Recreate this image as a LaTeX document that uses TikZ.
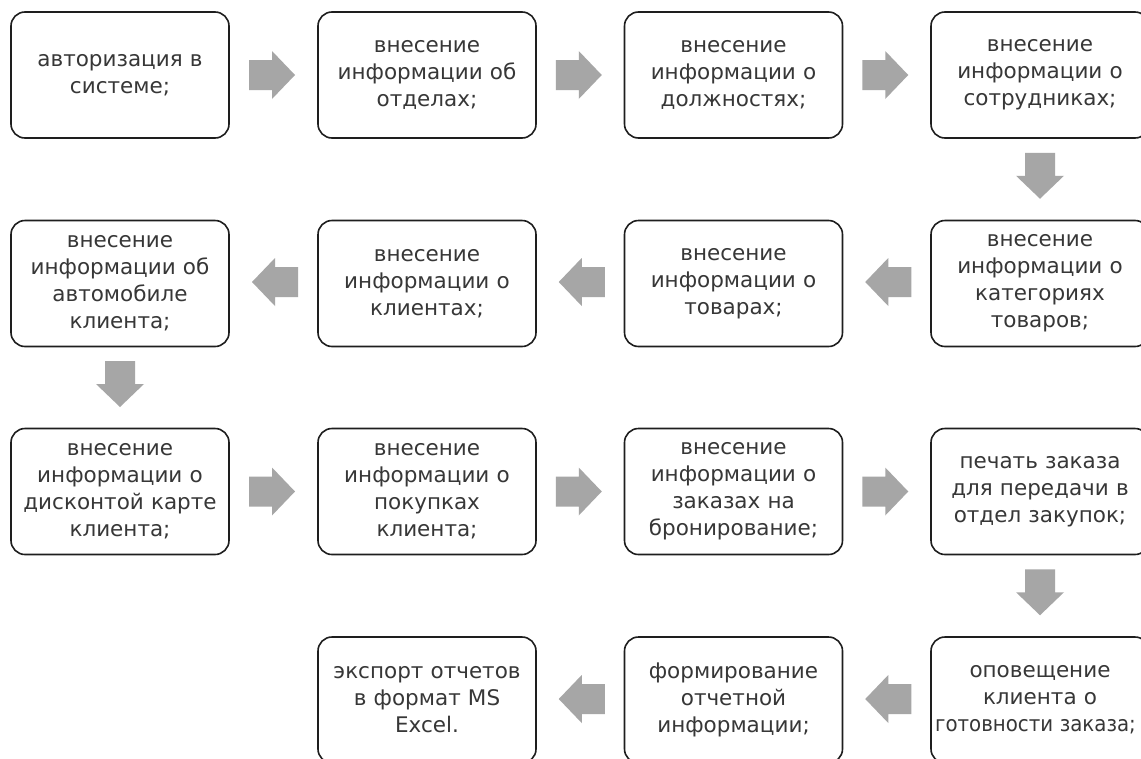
\documentclass[tikz,border=0pt]{standalone}
\usepackage{fontspec}
\setmainfont{DejaVu Sans}
\usetikzlibrary{calc}
\definecolor{arrowgray}{RGB}{166,166,166}
\definecolor{textgray}{RGB}{55,55,55}
\definecolor{framegray}{RGB}{30,30,30}
\tikzset{
  stepbox/.style={draw=framegray, line width=1.6pt, rounded corners=14pt,
    minimum width=218pt, minimum height=126pt, inner sep=0pt,
    text width=214pt, align=center, text=textgray,
    font=\fontsize{21.5}{27}\selectfont},
  blockarrow/.pic={
    \fill[arrowgray] (-23,-15) -- (0,-15) -- (0,-24) -- (23,0)
      -- (0,24) -- (0,15) -- (-23,15) -- cycle;
  }
}
% a line set a little narrower, centred slightly left of the box axis
\newcommand{\tightline}[1]{\makebox[\linewidth][c]{\hspace*{-9pt}\scalebox{0.92}[1]{#1}}}
\begin{document}
\begin{tikzpicture}[x=1pt,y=-1pt]
\useasboundingbox[fill=white] (0,0) rectangle (1141,758);

% row 1
\node[stepbox] (b1) at (120,75) {авторизация в\\системе;};
\node[stepbox] (b2) at (427,75) {внесение\\информации об\\отделах;};
\node[stepbox] (b3) at (733.5,75) {внесение\\информации о\\должностях;};
\node[stepbox] (b4) at (1040,75) {внесение\\информации о\\сотрудниках;};
% row 2
\node[stepbox] (b5) at (1040,283.5) {внесение\\информации о\\категориях\\товаров;};
\node[stepbox] (b6) at (733.5,283.5) {внесение\\информации о\\товарах;};
\node[stepbox] (b7) at (427,283.5) {внесение\\информации о\\клиентах;};
\node[stepbox] (b8) at (120,283.5) {внесение\\информации об\\автомобиле\\клиента;};
% row 3
\node[stepbox] (b9) at (120,491.5) {внесение\\информации о\\дисконтой карте\\клиента;};
\node[stepbox] (b10) at (427,491.5) {внесение\\информации о\\покупках\\клиента;};
\node[stepbox] (b11) at (733.5,491.5) {внесение\\информации о\\заказах на\\бронирование;};
\node[stepbox] (b12) at (1040,491.5) {печать заказа\\для передачи в\\отдел закупок;};
% row 4
\node[stepbox] (b13) at (1040,700) {оповещение\\клиента о\\\tightline{готовности заказа;}};
\node[stepbox] (b14) at (733.5,700) {формирование\\отчетной\\информации;};
\node[stepbox] (b15) at (427,700) {экспорт отчетов\\в формат MS\\Excel.};

% block arrows between the steps
\pic at ($(b1.east)!0.5!(b2.west)+(-1.5,0)$) {blockarrow};
\pic at ($(b2.east)!0.5!(b3.west)+(-1.5,0)$) {blockarrow};
\pic at ($(b3.east)!0.5!(b4.west)+(-1.5,0)$) {blockarrow};
\pic[rotate=-90] at ($(b4.south)!0.5!(b5.north)+(0,-3.5)$) {blockarrow};
\pic[rotate=180] at ($(b5.west)!0.5!(b6.east)+(1.5,-1.5)$) {blockarrow};
\pic[rotate=180] at ($(b6.west)!0.5!(b7.east)+(1.5,-1.5)$) {blockarrow};
\pic[rotate=180] at ($(b7.west)!0.5!(b8.east)+(1.5,-1.5)$) {blockarrow};
\pic[rotate=-90] at ($(b8.south)!0.5!(b9.north)+(0,-3.5)$) {blockarrow};
\pic at ($(b9.east)!0.5!(b10.west)+(-1.5,0)$) {blockarrow};
\pic at ($(b10.east)!0.5!(b11.west)+(-1.5,0)$) {blockarrow};
\pic at ($(b11.east)!0.5!(b12.west)+(-1.5,0)$) {blockarrow};
\pic[rotate=-90] at ($(b12.south)!0.5!(b13.north)+(0,-3.5)$) {blockarrow};
\pic[rotate=180] at ($(b13.west)!0.5!(b14.east)+(1.5,-1)$) {blockarrow};
\pic[rotate=180] at ($(b14.west)!0.5!(b15.east)+(1.5,-1)$) {blockarrow};
\end{tikzpicture}
\end{document}
